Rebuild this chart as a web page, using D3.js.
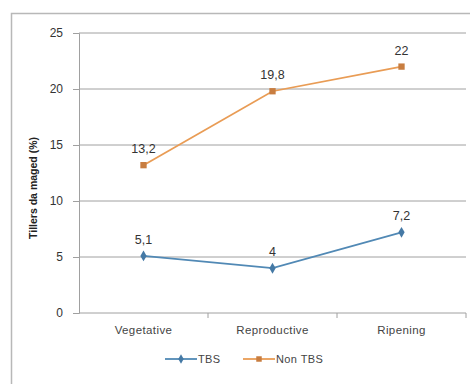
<!DOCTYPE html>
<html>
<head>
<meta charset="utf-8">
<script src="https://cdn.jsdelivr.net/npm/d3@7"></script>
<style>
  body { margin: 0; background: #fff; }
  svg { display: block; }
  text { font-family: "Liberation Sans", Arial, sans-serif; }
</style>
</head>
<body>
<svg id="chart" width="470" height="384"></svg>
<script>
// Growth stages and percentage of tillers damaged per series
const stages = ["Vegetative", "Reproductive", "Ripening"];
const tbsValues = [5.1, 4, 7.2];
const nonTbsValues = [13.2, 19.8, 22];
const tbsLabels = ["5,1", "4", "7,2"];
const nonTbsLabels = ["13,2", "19,8", "22"];
const yTicks = [0, 5, 10, 15, 20, 25];
const seriesNames = ["TBS", "Non TBS"];

const svg = d3.select("#chart");
const plot = { left: 79, right: 466, top: 33, bottom: 313 };

// outer chart frame
svg.append("rect")
  .attr("x", 11.5).attr("y", 13.5)
  .attr("width", 480).attr("height", 400)
  .attr("fill", "#fff").attr("stroke", "#b8b8b8").attr("stroke-width", 1.5);

const x = d3.scaleBand().domain(stages).range([plot.left, plot.right]);
const y = d3.scaleLinear().domain([0, 25]).range([plot.bottom, plot.top]);

// horizontal gridlines
svg.append("g").selectAll("line").data(yTicks.filter(d => d > 0)).join("line")
  .attr("x1", plot.left).attr("x2", plot.right)
  .attr("y1", d => y(d)).attr("y2", d => y(d))
  .attr("stroke", "#a0a0a0").attr("stroke-width", 1);

// y axis
const yAxis = svg.append("g")
  .attr("transform", `translate(${plot.left},0)`)
  .call(d3.axisLeft(y).tickValues(yTicks).tickSize(6).tickPadding(10));
yAxis.select(".domain").attr("stroke", "#a0a0a0");
yAxis.selectAll(".tick line").attr("stroke", "#a0a0a0");
yAxis.selectAll(".tick text").attr("fill", "#333").attr("font-size", 12);

// x axis with ticks at category boundaries
const xAxis = svg.append("g")
  .attr("transform", `translate(0,${plot.bottom})`);
xAxis.append("line")
  .attr("x1", plot.left).attr("x2", plot.right)
  .attr("stroke", "#a0a0a0");
xAxis.selectAll("line.bt").data(stages).join("line")
  .attr("class", "bt")
  .attr("x1", d => x(d) + x.bandwidth()).attr("x2", d => x(d) + x.bandwidth())
  .attr("y1", 0).attr("y2", 5).attr("stroke", "#a0a0a0");
xAxis.selectAll("text").data(stages).join("text")
  .attr("x", d => x(d) + x.bandwidth() / 2)
  .attr("y", 21)
  .attr("text-anchor", "middle")
  .attr("font-size", 11.5).attr("letter-spacing", 0.4).attr("fill", "#444")
  .text(d => d);

// y axis title
svg.append("text")
  .attr("transform", `translate(37,${(plot.top + plot.bottom) / 2 + 15}) rotate(-90)`)
  .attr("text-anchor", "middle")
  .attr("font-size", 10.5).attr("font-weight", "bold").attr("fill", "#222")
  .text("Tillers da maged (%)");

const cx = d => x(d) + x.bandwidth() / 2;
const line = d3.line().x(d => cx(d.stage)).y(d => y(d.value));

const series = [
  { name: seriesNames[0], values: tbsValues, labels: tbsLabels, color: "#5189b5", marker: "#4579a5", shape: d3.symbolDiamond },
  { name: seriesNames[1], values: nonTbsValues, labels: nonTbsLabels, color: "#e99c55", marker: "#c87d40", shape: d3.symbolSquare }
];

series.forEach(s => {
  const pts = stages.map((st, i) => ({ stage: st, value: s.values[i], label: s.labels[i] }));
  svg.append("path").datum(pts)
    .attr("d", line).attr("fill", "none")
    .attr("stroke", s.color).attr("stroke-width", 1.8);
  svg.append("g").selectAll("path").data(pts).join("path")
    .attr("transform", d => `translate(${cx(d.stage)},${y(d.value)})`)
    .attr("d", d3.symbol().type(s.shape).size(s.shape === d3.symbolSquare ? 40 : 34))
    .attr("fill", s.marker);
  svg.append("g").selectAll("text").data(pts).join("text")
    .attr("x", d => cx(d.stage))
    .attr("y", d => y(d.value) - 12)
    .attr("text-anchor", "middle")
    .attr("font-size", 12.5).attr("fill", "#333")
    .text(d => d.label);
});

// legend
const legend = svg.append("g").attr("transform", "translate(0,359)");
const legendX = [165, 243];
series.forEach((s, i) => {
  const g = legend.append("g").attr("transform", `translate(${legendX[i]},0)`);
  g.append("line").attr("x1", 0).attr("x2", 32).attr("stroke", s.color).attr("stroke-width", 1.8);
  g.append("path").attr("transform", "translate(16,0)")
    .attr("d", d3.symbol().type(s.shape).size(s.shape === d3.symbolSquare ? 30 : 26))
    .attr("fill", s.marker);
  g.append("text").attr("x", 33).attr("y", 4)
    .attr("font-size", 11).attr("letter-spacing", 0.4).attr("fill", "#444").text(s.name);
});
</script>
</body>
</html>
